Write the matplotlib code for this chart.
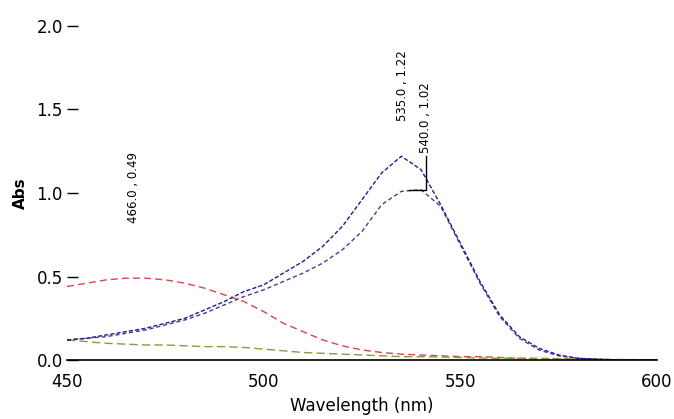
import matplotlib
matplotlib.use('Agg')
import numpy as np
from matplotlib import pyplot as plt

plt.rcParams['font.family'] = ['DejaVu Sans']

# wavelength grid (nm)
wl = [450, 455, 460, 465, 470, 475, 480, 485, 490, 495, 500, 505, 510, 515,
      520, 525, 530, 535, 540, 545, 550, 555, 560, 565, 570, 575, 580, 585,
      590, 595, 600]

blue = [0.12, 0.13, 0.15, 0.17, 0.19, 0.22, 0.25, 0.30, 0.35, 0.41, 0.45, 0.52,
        0.59, 0.68, 0.80, 0.96, 1.12, 1.22, 1.14, 0.93, 0.70, 0.47, 0.27, 0.14,
        0.07, 0.03, 0.01, 0.005, 0.0, 0.0, 0.0]
purple = [0.12, 0.13, 0.14, 0.16, 0.18, 0.21, 0.24, 0.28, 0.33, 0.38, 0.42, 0.47,
          0.52, 0.58, 0.66, 0.77, 0.93, 1.01, 1.02, 0.92, 0.69, 0.46, 0.26, 0.13,
          0.06, 0.025, 0.01, 0.004, 0.0, 0.0, 0.0]
red = [0.44, 0.46, 0.48, 0.49, 0.49, 0.48, 0.46, 0.43, 0.39, 0.35, 0.29, 0.22,
       0.17, 0.12, 0.085, 0.06, 0.045, 0.035, 0.03, 0.025, 0.02, 0.02, 0.015, 0.01,
       0.01, 0.008, 0.005, 0.003, 0.0, 0.0, 0.0]
olive = [0.12, 0.11, 0.10, 0.095, 0.09, 0.09, 0.085, 0.08, 0.08, 0.075, 0.065, 0.055,
         0.045, 0.04, 0.035, 0.03, 0.025, 0.02, 0.02, 0.018, 0.015, 0.012, 0.01, 0.01,
         0.008, 0.006, 0.005, 0.004, 0.003, 0.002, 0.0]

# peak picks: (wavelength, abs, text)
peaks = [(535.0, 1.22, '535.0 , 1.22'),
         (540.0, 1.02, '540.0 , 1.02'),
         (466.0, 0.49, '466.0 , 0.49')]

fig = plt.figure(figsize=(6.74, 4.19), dpi=100)
ax = fig.add_axes([67/674, 1-360/419, 590/674, 334/419])

ax.plot(wl, red, color='#d8484a', lw=1.0, ls=(0, (5, 3)))
ax.plot(wl, olive, color='#8c9a3c', lw=1.0, ls=(0, (6, 3)))
ax.plot(wl, purple, color='#503a8c', lw=1.0, ls=(0, (3, 2)))
ax.plot(wl, blue, color='#1e1e8c', lw=1.0, ls=(0, (3, 1.5)))

# peak labels
ax.text(peaks[0][0] + 0.3, peaks[0][1] + 0.21, peaks[0][2], rotation=90,
        ha='center', va='bottom', fontsize=8.5)
ax.plot([peaks[1][0] - 3, peaks[1][0] + 1.2, peaks[1][0] + 1.2],
        [peaks[1][1], peaks[1][1], peaks[1][1] + 0.2], color='black', lw=1.0)
ax.text(peaks[1][0] + 1.2, peaks[1][1] + 0.22, peaks[1][2], rotation=90,
        ha='center', va='bottom', fontsize=8.5)
ax.text(peaks[2][0] + 0.8, peaks[2][1] + 0.33, peaks[2][2], rotation=90,
        ha='center', va='bottom', fontsize=8.5)

ax.set_xlim(450, 600)
ax.set_ylim(0, 2.0)
ax.set_xticks([450, 500, 550, 600])
ax.set_yticks([0.0, 0.5, 1.0, 1.5, 2.0])
ax.set_yticklabels(['0.0', '0.5', '1.0', '1.5', '2.0'])
for s in ['top', 'right', 'left']:
    ax.spines[s].set_visible(False)
ax.spines['bottom'].set_linewidth(1.2)
ax.tick_params(axis='y', direction='in', length=8, width=1, labelsize=12, pad=3)
ax.tick_params(axis='x', length=0, labelsize=12, pad=9)

ax.set_xlabel('Wavelength (nm)', fontsize=12, labelpad=5)
ax.set_ylabel('Abs', fontsize=11, fontweight='bold', labelpad=6)

plt.savefig('out.png', dpi=100)
